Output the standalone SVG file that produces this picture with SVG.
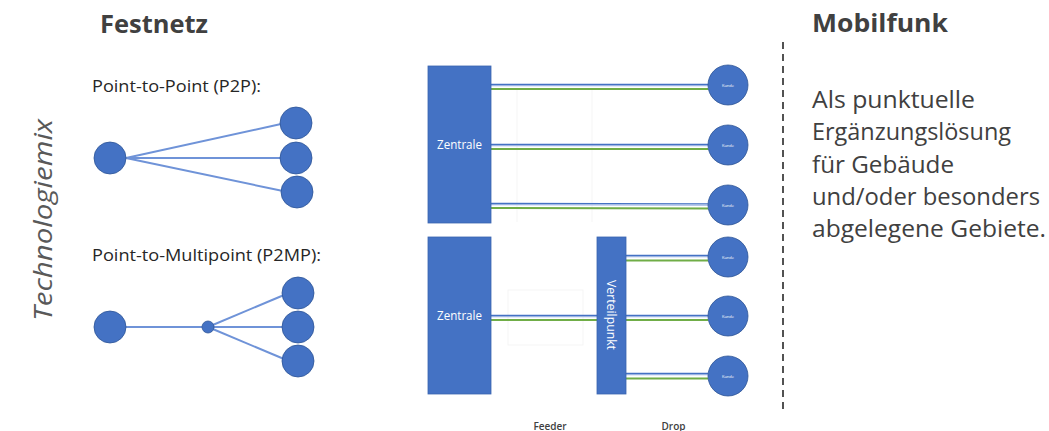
<svg xmlns="http://www.w3.org/2000/svg" width="1049" height="431" viewBox="0 0 1049 431">
<style>
.title{font-family:"Open Sans","Liberation Sans",sans-serif;font-weight:700;font-size:25px;fill:#404040}
.body{font-family:"Open Sans","Liberation Sans",sans-serif;font-size:24px;fill:#404040}
.lbl{font-family:"Open Sans","Liberation Sans",sans-serif;font-size:17px;fill:#262626}
.side{font-family:"Open Sans","Liberation Sans",sans-serif;font-style:italic;font-size:25px;fill:#595959}
.box{fill:#4472C4;stroke:#3A64B0;stroke-width:0.8}
.node{fill:#4472C4;stroke:#2F5597;stroke-width:0.8}
.wtxt{font-family:"Open Sans","Liberation Sans",sans-serif;fill:#ffffff}
.kunde{font-family:"Open Sans","Liberation Sans",sans-serif;font-size:4px;fill:#ffffff;text-anchor:middle}
.link{stroke:#6F93D8;stroke-width:2;fill:none}
.fb1{stroke:#4472C4;stroke-width:1.2;fill:none}
.fb2{stroke:#9DB5E3;stroke-width:1.2;fill:none}
.fg{stroke:#70AD47;stroke-width:2;fill:none}
.foot{font-family:"Open Sans","Liberation Sans",sans-serif;font-size:10px;font-weight:600;fill:#404040;text-anchor:middle}
.faint{stroke:#F5F5F5;stroke-width:1;fill:none}
</style>

<g id="headings">
<text class="title" x="100" y="33" textLength="108" lengthAdjust="spacingAndGlyphs">Festnetz</text>
<text class="title" x="812" y="32" textLength="136" lengthAdjust="spacingAndGlyphs">Mobilfunk</text>
<text class="side" transform="translate(52,220) rotate(-90)" text-anchor="middle" textLength="202" lengthAdjust="spacingAndGlyphs">Technologiemix</text>
</g>

<g id="mobilfunk-text">
<text class="body" x="812" y="108" textLength="163" lengthAdjust="spacingAndGlyphs">Als punktuelle</text>
<text class="body" x="812" y="140" textLength="199" lengthAdjust="spacingAndGlyphs">Ergänzungslösung</text>
<text class="body" x="812" y="172.5" textLength="142" lengthAdjust="spacingAndGlyphs">für Gebäude</text>
<text class="body" x="812" y="205" textLength="228" lengthAdjust="spacingAndGlyphs">und/oder besonders</text>
<text class="body" x="812" y="237" textLength="234" lengthAdjust="spacingAndGlyphs">abgelegene Gebiete.</text>
</g>

<g id="divider">
<line x1="783" y1="42" x2="783" y2="412" stroke="#404040" stroke-width="1.8" stroke-dasharray="7,5"/>
</g>

<g id="faint-guides">
<rect class="faint" x="508" y="290" width="75" height="55"/>
<line class="faint" x1="517" y1="90" x2="517" y2="222"/>
<line class="faint" x1="592" y1="90" x2="592" y2="222"/>
</g>

<g id="connectors">
<!-- P2P -->
<line class="link" x1="126" y1="158" x2="281" y2="124"/>
<line class="link" x1="126" y1="158" x2="281" y2="158"/>
<line class="link" x1="126" y1="158" x2="283" y2="191"/>
<!-- P2MP -->
<line class="link" x1="126" y1="327" x2="202" y2="327"/>
<line class="link" x1="208" y1="327" x2="284" y2="295"/>
<line class="link" x1="208" y1="327" x2="282" y2="327"/>
<line class="link" x1="208" y1="327" x2="284" y2="359"/>
<!-- fibre top -->
<line class="fb1" x1="491" y1="84.4" x2="708" y2="84.4"/>
<line class="fb2" x1="491" y1="85.6" x2="708" y2="85.6"/>
<line class="fg" x1="491" y1="89" x2="708" y2="89"/>
<line class="fb1" x1="491" y1="144.4" x2="708" y2="144.4"/>
<line class="fb2" x1="491" y1="145.6" x2="708" y2="145.6"/>
<line class="fg" x1="491" y1="149" x2="708" y2="149"/>
<line class="fb1" x1="491" y1="203.4" x2="708" y2="203.9"/>
<line class="fb2" x1="491" y1="204.6" x2="708" y2="205.1"/>
<line class="fg" x1="491" y1="208" x2="708" y2="208.5"/>
<!-- feeder -->
<line class="fb1" x1="491" y1="315.4" x2="597" y2="315.4"/>
<line class="fb2" x1="491" y1="316.6" x2="597" y2="316.6"/>
<line class="fg" x1="491" y1="320" x2="597" y2="320"/>
<!-- drops -->
<line class="fb1" x1="626" y1="255.4" x2="708" y2="255.4"/>
<line class="fb2" x1="626" y1="256.6" x2="708" y2="256.6"/>
<line class="fg" x1="626" y1="260.5" x2="708" y2="260.5"/>
<line class="fb1" x1="626" y1="315.4" x2="708" y2="315.4"/>
<line class="fb2" x1="626" y1="316.6" x2="708" y2="316.6"/>
<line class="fg" x1="626" y1="320" x2="708" y2="320"/>
<line class="fb1" x1="626" y1="373.4" x2="708" y2="373.4"/>
<line class="fb2" x1="626" y1="374.6" x2="708" y2="374.6"/>
<line class="fg" x1="626" y1="378.5" x2="708" y2="378.5"/>
</g>

<g id="p2p">
<text class="lbl" x="92" y="92" textLength="169" lengthAdjust="spacingAndGlyphs">Point-to-Point (P2P):</text>
<circle class="node" cx="110" cy="158" r="16"/>
<circle class="node" cx="296" cy="123" r="16"/>
<circle class="node" cx="296" cy="158" r="16"/>
<circle class="node" cx="297" cy="192" r="16"/>
</g>

<g id="p2mp">
<text class="lbl" x="92" y="261" textLength="229" lengthAdjust="spacingAndGlyphs">Point-to-Multipoint (P2MP):</text>
<circle class="node" cx="110" cy="327" r="16"/>
<circle class="node" cx="208" cy="327" r="6"/>
<circle class="node" cx="298" cy="293" r="16"/>
<circle class="node" cx="298" cy="327" r="16"/>
<circle class="node" cx="298" cy="361" r="16"/>
</g>

<g id="zentrale-top">
<rect class="box" x="428" y="66" width="63" height="157"/>
<text class="wtxt" x="459.5" y="149" font-size="12" text-anchor="middle" textLength="45" lengthAdjust="spacingAndGlyphs">Zentrale</text>
</g>

<g id="zentrale-bottom">
<rect class="box" x="428" y="237" width="63" height="157"/>
<text class="wtxt" x="459.5" y="320" font-size="12" text-anchor="middle" textLength="45" lengthAdjust="spacingAndGlyphs">Zentrale</text>
</g>

<g id="verteilpunkt">
<rect class="box" x="597" y="237" width="29" height="157"/>
<text class="wtxt" transform="translate(611.5,315) rotate(90)" font-size="12.5" text-anchor="middle" dominant-baseline="central" textLength="70" lengthAdjust="spacingAndGlyphs">Verteilpunkt</text>
</g>

<g id="kunden">
<g id="kunde-1"><circle class="node" cx="728" cy="85" r="20"/><text class="kunde" x="728" y="86.5">Kunde</text></g>
<g id="kunde-2"><circle class="node" cx="728" cy="145" r="20"/><text class="kunde" x="728" y="146.5">Kunde</text></g>
<g id="kunde-3"><circle class="node" cx="728" cy="205" r="20"/><text class="kunde" x="728" y="206.5">Kunde</text></g>
<g id="kunde-4"><circle class="node" cx="728" cy="257" r="20"/><text class="kunde" x="728" y="258.5">Kunde</text></g>
<g id="kunde-5"><circle class="node" cx="728" cy="316" r="20"/><text class="kunde" x="728" y="317.5">Kunde</text></g>
<g id="kunde-6"><circle class="node" cx="728" cy="376" r="20"/><text class="kunde" x="728" y="377.5">Kunde</text></g>
</g>

<g id="footer">
<text class="foot" x="550" y="430">Feeder</text>
<text class="foot" x="673.5" y="430">Drop</text>
</g>
</svg>
